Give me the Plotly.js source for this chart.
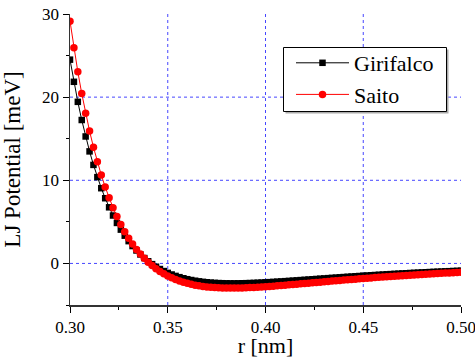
<!DOCTYPE html>
<html>
<head>
<meta charset="utf-8">
<script src="https://cdn.plot.ly/plotly-3.0.1.min.js"></script>
<style>
html,body{margin:0;padding:0;background:#fff;}
#chart{width:475px;height:358px;}
#chart svg text{font-family:'Liberation Serif' !important;}
</style>
</head>
<body>
<div id="chart"></div>
<script>
var r = [0.300,0.302,0.304,0.306,0.308,0.310,0.312,0.314,0.316,0.318,
0.320,0.322,0.324,0.326,0.328,0.330,0.332,0.334,0.336,0.338,
0.340,0.342,0.344,0.346,0.348,0.350,0.352,0.354,0.356,0.358,
0.360,0.362,0.364,0.366,0.368,0.370,0.372,0.374,0.376,0.378,
0.380,0.382,0.384,0.386,0.388,0.390,0.392,0.394,0.396,0.398,
0.400,0.402,0.404,0.406,0.408,0.410,0.412,0.414,0.416,0.418,
0.420,0.422,0.424,0.426,0.428,0.430,0.432,0.434,0.436,0.438,
0.440,0.442,0.444,0.446,0.448,0.450,0.452,0.454,0.456,0.458,
0.460,0.462,0.464,0.466,0.468,0.470,0.472,0.474,0.476,0.478,
0.480,0.482,0.484,0.486,0.488,0.490,0.492,0.494,0.496,0.498,0.500];

var girifalco = [24.508,21.847,19.435,17.250,15.270,13.476,11.851,10.380,9.048,7.842,
6.750,5.764,4.871,4.065,3.338,2.681,2.089,1.556,1.077,0.646,
0.260,-0.086,-0.396,-0.672,-0.918,-1.137,-1.331,-1.501,-1.651,-1.783,
-1.897,-1.996,-2.081,-2.153,-2.214,-2.264,-2.305,-2.337,-2.362,-2.379,
-2.391,-2.396,-2.397,-2.393,-2.386,-2.374,-2.359,-2.342,-2.322,-2.300,
-2.275,-2.249,-2.222,-2.193,-2.163,-2.133,-2.101,-2.069,-2.036,-2.003,
-1.970,-1.937,-1.903,-1.869,-1.836,-1.802,-1.769,-1.736,-1.703,-1.670,
-1.638,-1.606,-1.574,-1.543,-1.512,-1.481,-1.452,-1.422,-1.393,-1.364,
-1.336,-1.309,-1.282,-1.255,-1.229,-1.203,-1.178,-1.153,-1.129,-1.105,
-1.082,-1.059,-1.037,-1.015,-0.994,-0.973,-0.952,-0.932,-0.912,-0.893,-0.874];

var saito = [29.134,25.946,23.058,20.442,18.072,15.926,13.982,12.222,10.630,9.188,
7.885,6.706,5.642,4.680,3.812,3.030,2.325,1.690,1.120,0.608,
0.149,-0.262,-0.629,-0.956,-1.247,-1.505,-1.733,-1.934,-2.111,-2.264,
-2.398,-2.513,-2.612,-2.695,-2.765,-2.822,-2.868,-2.903,-2.930,-2.949,
-2.960,-2.964,-2.962,-2.955,-2.943,-2.927,-2.908,-2.884,-2.858,-2.830,
-2.798,-2.765,-2.731,-2.694,-2.657,-2.618,-2.579,-2.539,-2.498,-2.457,
-2.416,-2.374,-2.332,-2.291,-2.249,-2.208,-2.166,-2.125,-2.085,-2.044,
-2.005,-1.965,-1.926,-1.888,-1.850,-1.812,-1.776,-1.739,-1.704,-1.669,
-1.634,-1.600,-1.567,-1.534,-1.502,-1.471,-1.440,-1.410,-1.380,-1.351,
-1.322,-1.294,-1.267,-1.240,-1.214,-1.188,-1.163,-1.139,-1.115,-1.091,-1.068];

var seriesNames = ['Girifalco', 'Saito'];
var xTicks = [0.30, 0.35, 0.40, 0.45, 0.50];
var xTickText = ['0.30', '0.35', '0.40', '0.45', '0.50'];
var yTicks = [0, 10, 20, 30];
var xGrid = [0.35, 0.40, 0.45];
var yGrid = [0, 10, 20];

var FONT = 'Liberation Serif';
var gridStyle = {color: 'rgb(70,70,255)', width: 1, dash: 'dot'};

// plot area in px: x 70..461, y 14..305
function px2paperX(p) { return (p - 70) / 391; }
function px2paperY(p) { return (305 - p) / 291; }

var shapes = [];
xGrid.forEach(function (v) {
  shapes.push({type: 'line', layer: 'below', xref: 'x', yref: 'paper', x0: v, x1: v, y0: 0, y1: 1, line: gridStyle});
});
yGrid.forEach(function (v) {
  shapes.push({type: 'line', layer: 'below', xref: 'paper', yref: 'y', x0: 0, x1: 1, y0: v, y1: v, line: gridStyle});
});
// legend frame with a soft shadow
shapes.push({type: 'rect', layer: 'above', xref: 'paper', yref: 'paper',
  x0: px2paperX(285.5), x1: px2paperX(448.5), y0: px2paperY(113.5), y1: px2paperY(49.5),
  fillcolor: '#aaa', line: {width: 0}});
shapes.push({type: 'rect', layer: 'above', xref: 'paper', yref: 'paper',
  x0: px2paperX(283.5), x1: px2paperX(446.5), y0: px2paperY(111.5), y1: px2paperY(47.5),
  fillcolor: '#fff', line: {color: '#000', width: 1}});

var traces = [
  {x: r, y: girifalco, name: seriesNames[0], type: 'scatter', mode: 'lines+markers',
   line: {color: '#000', width: 1}, marker: {symbol: 'square', size: 6.5, color: '#000'}},
  {x: r, y: saito, name: seriesNames[1], type: 'scatter', mode: 'lines+markers',
   line: {color: '#ff0000', width: 1}, marker: {symbol: 'circle', size: 7.5, color: '#ff0000'}}
];

var layout = {
  width: 475, height: 358,
  margin: {l: 70, r: 14, t: 14, b: 53, pad: 0},
  paper_bgcolor: '#fff', plot_bgcolor: '#fff',
  font: {family: FONT, color: '#000', size: 17},
  showlegend: true,
  legend: {x: px2paperX(291), y: px2paperY(42), xanchor: 'left', yanchor: 'top',
    bgcolor: 'rgba(0,0,0,0)', borderwidth: 0,
    font: {family: FONT, size: 22, color: '#000'}, itemwidth: 53, tracegroupgap: 0},
  xaxis: {
    range: [0.30, 0.50], tickmode: 'array', tickvals: xTicks, ticktext: xTickText,
    ticklabeloverflow: 'allow',
    showgrid: false, zeroline: false, showline: true, linecolor: '#333', linewidth: 1.5,
    ticks: 'outside', ticklen: 6, tickwidth: 1, tickcolor: '#000',
    tickfont: {family: FONT, size: 17, color: '#000'},
    minor: {dtick: 0.025, tick0: 0.30, ticks: 'outside', ticklen: 3, tickwidth: 1, tickcolor: '#000', showgrid: false},
    title: {text: 'r [nm]', font: {family: FONT, size: 22, color: '#000'}}
  },
  yaxis: {
    range: [-5, 30], tickmode: 'array', tickvals: yTicks,
    showgrid: false, zeroline: false, showline: true, linecolor: '#333', linewidth: 1.5,
    ticks: 'outside', ticklen: 6, tickwidth: 1, tickcolor: '#000',
    tickfont: {family: FONT, size: 17, color: '#000'},
    minor: {dtick: 5, tick0: 0, ticks: 'outside', ticklen: 3, tickwidth: 1, tickcolor: '#000', showgrid: false},
    title: {text: 'LJ Potential [meV]', font: {family: FONT, size: 23, color: '#000'}}
  },
  shapes: shapes
};

Plotly.newPlot('chart', traces, layout, {staticPlot: true, displayModeBar: false});
</script>
</body>
</html>
